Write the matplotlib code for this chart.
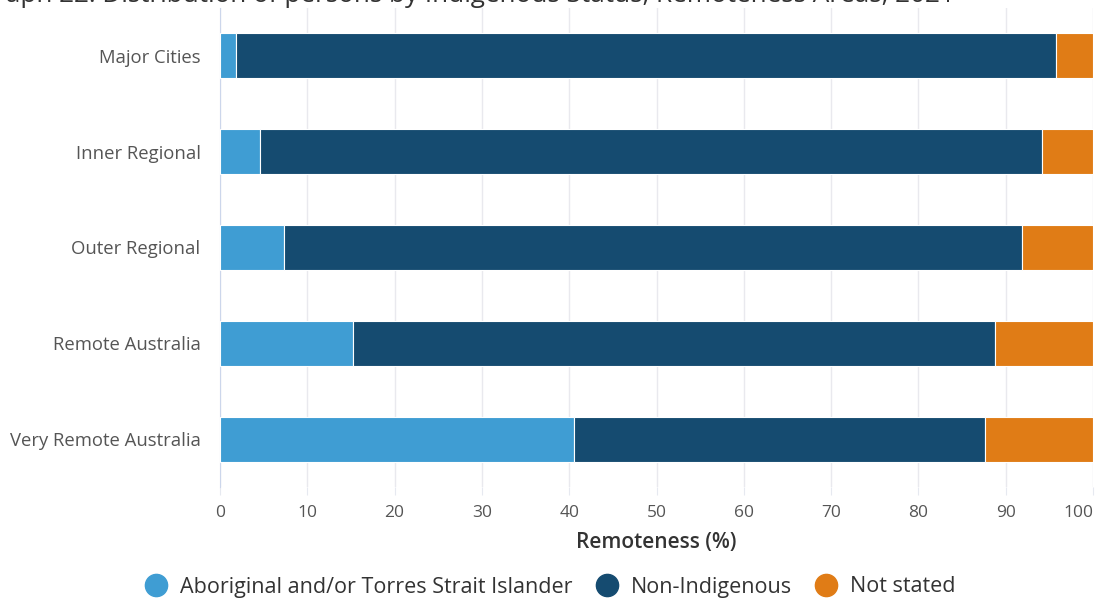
import numpy as np
import matplotlib.pyplot as plt
from matplotlib.lines import Line2D

plt.rcParams['font.family'] = ['Open Sans', 'DejaVu Sans']

areas = ['Major Cities', 'Inner Regional', 'Outer Regional', 'Remote Australia', 'Very Remote Australia']
aboriginal = [1.8, 4.6, 7.3, 15.2, 40.5]
non_indigenous = [94.0, 89.6, 84.6, 73.6, 47.1]
not_stated = [4.2, 5.8, 8.1, 11.2, 12.4]

series = ['Aboriginal and/or Torres Strait Islander', 'Non-Indigenous', 'Not stated']
colors = ['#3f9dd3', '#154b70', '#e07c16']
title = 'Graph 22: Distribution of persons by Indigenous Status, Remoteness Areas, 2021'

fig = plt.figure(figsize=(10.96, 6.03), dpi=100)
ax = fig.add_axes([220 / 1096, 1 - 487 / 603, 873 / 1096, 479 / 603])

y = np.arange(len(areas))
left = np.zeros(len(areas))
for vals, col, name in zip([aboriginal, non_indigenous, not_stated], colors, series):
    ax.barh(y, vals, left=left, height=0.47, color=col, edgecolor='white',
            linewidth=0.8, label=name, zorder=3)
    left += np.array(vals)

ax.set_ylim(len(areas) - 0.5, -0.5)
ax.set_xlim(0, 100)
ax.set_xticks(np.arange(0, 101, 10))
ax.set_yticks(y)
ax.set_yticklabels(areas)
ax.grid(axis='x', color='#e9e9ee', linewidth=1, zorder=0)
for s in ['top', 'right', 'bottom']:
    ax.spines[s].set_visible(False)
ax.spines['left'].set_color('#ccd6eb')
ax.tick_params(axis='y', length=0, pad=14, labelsize=13.3, labelcolor='#555555')
ax.tick_params(axis='x', length=6, color='#e6e9f0', pad=7, labelsize=12.5, labelcolor='#555555')
ax.get_xticklabels()[-1].set_horizontalalignment('right')
ax.set_xlabel('Remoteness (%)', fontsize=15, color='#333333', fontweight='semibold', labelpad=8)

fig.text(-24 / 1096, 1 - 1.5 / 603, title,
         fontsize=18.8, color='#333333', va='baseline', ha='left')

handles = [Line2D([0], [0], marker='o', linestyle='', markersize=16,
                  markerfacecolor=c, markeredgecolor=c) for c in colors]
fig.legend(handles, series, loc='center', bbox_to_anchor=(545 / 1096, 1 - 587 / 603),
           ncol=3, frameon=False, fontsize=15.5, handletextpad=0.1, columnspacing=0.6,
           labelcolor='#333333')

fig.savefig('out.png', dpi=100)
